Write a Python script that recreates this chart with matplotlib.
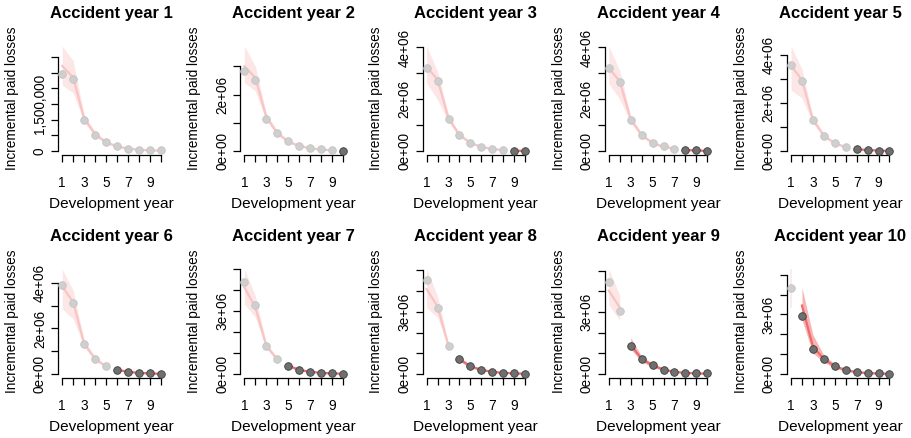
import numpy as np
import matplotlib.pyplot as plt

plt.rcParams['font.family'] = ['Liberation Sans', 'DejaVu Sans']

dev_years = np.arange(1, 11)
acc_years = list(range(1, 11))
# number of development years used for fitting (light), rest are hold-out (dark)
n_fit = [10, 9, 8, 7, 6, 5, 4, 3, 2, 1]

# incremental paid losses, thousands
observed = [
    [2440, 2280, 980, 520, 290, 160, 80, 50, 30, 20],
    [2830, 2530, 1140, 630, 350, 180, 110, 60, 35, 20],
    [3200, 2720, 1240, 630, 320, 170, 80, 40, 10, 10],
    [3200, 2680, 1200, 620, 300, 180, 100, 40, 30, 10],
    [3550, 2920, 1290, 630, 320, 170, 80, 40, 25, 15],
    [3900, 3130, 1320, 660, 340, 180, 100, 60, 30, 20],
    [4340, 3270, 1340, 710, 390, 190, 100, 60, 40, 20],
    [4520, 3190, 1350, 720, 400, 190, 110, 60, 30, 20],
    [4460, 3050, 1350, 720, 430, 190, 90, 60, 40, 30],
    [4310, 2940, 1280, 780, 420, 200, 100, 60, 40, 25],
]
fitted = [
    [2710, 2340, 1040, 540, 280, 150, 80, 45, 25, 15],
    [3000, 2590, 1200, 640, 340, 180, 100, 55, 30, 20],
    [3250, 2760, 1260, 620, 320, 160, 80, 40, 15, 10],
    [3200, 2700, 1220, 620, 310, 170, 95, 40, 25, 10],
    [3550, 2940, 1300, 640, 320, 170, 80, 45, 25, 12],
    [3850, 3150, 1340, 670, 340, 190, 100, 55, 30, 15],
    [4110, 3160, 1340, 700, 400, 200, 110, 60, 35, 20],
    [4090, 3250, 1350, 720, 380, 200, 110, 60, 35, 20],
    [4030, 3220, 1400, 740, 420, 220, 110, 60, 35, 20],
    [4300, 3450, 1390, 750, 400, 200, 100, 55, 30, 20],
]
lower = [
    [2100, 1850, 920, 470, 245, 125, 65, 35, 18, 10],
    [2420, 2120, 1080, 570, 300, 155, 85, 45, 22, 12],
    [2620, 1980, 1130, 550, 280, 140, 65, 30, 8, 5],
    [2600, 2000, 1100, 550, 270, 145, 80, 30, 15, 5],
    [2540, 2200, 1170, 570, 280, 145, 65, 35, 15, 5],
    [2860, 2420, 1200, 590, 300, 160, 80, 40, 20, 8],
    [3320, 2690, 1200, 620, 330, 160, 85, 45, 22, 10],
    [3200, 2730, 1250, 620, 310, 160, 85, 45, 22, 10],
    [3350, 2600, 1210, 600, 330, 170, 85, 40, 20, 10],
    [3330, 2740, 1050, 600, 300, 140, 70, 35, 20, 10],
]
upper = [
    [3340, 2880, 1170, 620, 330, 180, 100, 60, 35, 25],
    [3710, 3000, 1330, 720, 390, 210, 120, 70, 40, 30],
    [4050, 3070, 1400, 700, 370, 190, 100, 55, 25, 18],
    [4050, 3100, 1360, 700, 360, 200, 115, 55, 35, 18],
    [4350, 3400, 1440, 720, 370, 200, 100, 60, 35, 20],
    [4600, 3670, 1490, 760, 390, 230, 125, 75, 45, 25],
    [4970, 3700, 1490, 790, 470, 250, 140, 80, 50, 30],
    [5050, 3760, 1480, 820, 450, 250, 140, 80, 50, 30],
    [5070, 3800, 1770, 850, 520, 280, 150, 85, 55, 35],
    [5280, 4350, 1980, 950, 520, 260, 140, 80, 50, 35],
]

ytick_top = [3e6, 3e6, 4e6, 4e6, 4e6, 4e6, 5e6, 5e6, 5e6, 5e6]
ytick_step = [5e5, 1e6, 1e6, 1e6, 1e6, 1e6, 1e6, 1e6, 1e6, 1e6]
ytick_labels = [
    {0: '0', 1.5e6: '1,500,000'},
    {0: '0e+00', 2e6: '2e+06'},
    {0: '0e+00', 2e6: '2e+06', 4e6: '4e+06'},
    {0: '0e+00', 2e6: '2e+06', 4e6: '4e+06'},
    {0: '0e+00', 2e6: '2e+06', 4e6: '4e+06'},
    {0: '0e+00', 2e6: '2e+06', 4e6: '4e+06'},
    {0: '0e+00', 3e6: '3e+06'},
    {0: '0e+00', 3e6: '3e+06'},
    {0: '0e+00', 3e6: '3e+06'},
    {0: '0e+00', 3e6: '3e+06'},
]

W, H = 911, 438
fig = plt.figure(figsize=(W / 100, H / 100), dpi=100)

light_band, light_line, light_pt = '#fde6e6', '#f8c4c4', '#cfcfcf'
dark_band, dark_line, dark_pt = '#f7b4b4', '#ee6b6b', '#6f6f6f'


def draw_part(ax, x, m, lo, hi, y, band, line, pt, edge):
    if len(x) == 1:
        ax.vlines(x, lo, hi, color=band, lw=1.2, zorder=1)
    else:
        ax.fill_between(x, lo, hi, color=band, lw=0, zorder=1)
    ax.plot(x, m, color=line, lw=1.6, zorder=2)
    ax.scatter(x, y, s=30, color=pt, edgecolors=edge, linewidths=0.6, zorder=3)


for k, ay in enumerate(acc_years):
    row, col = divmod(k, 5)
    left = (58.3 + col * 182.2) / W
    top = 42 + row * 223
    ax = fig.add_axes([left, (H - top - 113.3) / H, 106.3 / W, 113.3 / H])

    y = np.array(observed[k]) * 1000
    m = np.array(fitted[k]) * 1000
    lo = np.array(lower[k]) * 1000
    hi = np.array(upper[k]) * 1000
    n = n_fit[k]

    draw_part(ax, dev_years[:n], m[:n], lo[:n], hi[:n], y[:n],
              light_band, light_line, light_pt, '#c4c4c4')
    if n < 10:
        draw_part(ax, dev_years[n:], m[n:], lo[n:], hi[n:], y[n:],
                  dark_band, dark_line, dark_pt, '#3c3c3c')

    ymin = min(lo.min(), y.min(), 0)
    ymax = max(hi.max(), y.max())
    pad = 0.04 * (ymax - ymin)
    ax.set_ylim(ymin - pad, ymax + pad)
    ax.set_xlim(1 - 0.36, 10 + 0.36)

    yt = np.arange(0, ytick_top[k] + 1, ytick_step[k])
    ax.set_yticks(yt)
    ax.set_yticklabels([ytick_labels[k].get(v, '') for v in yt])
    ax.set_xticks(dev_years)
    ax.set_xticklabels([str(d) if d % 2 == 1 else '' for d in dev_years])

    for s in ['top', 'right']:
        ax.spines[s].set_visible(False)
    ax.spines['left'].set_bounds(0, ytick_top[k])
    ax.spines['bottom'].set_bounds(1, 10)
    for s in ['left', 'bottom']:
        ax.spines[s].set_linewidth(0.9)

    ax.tick_params(axis='both', length=5.2, width=0.9, labelsize=9.8)
    ax.tick_params(axis='x', pad=9.5)
    ax.tick_params(axis='y', pad=3, labelrotation=90)
    for lab in ax.get_yticklabels():
        lab.set_va('center')

    ax.set_title(f'Accident year {ay}', fontsize=12, fontweight='bold', pad=17)
    ax.set_xlabel('Development year', fontsize=11.1)
    ax.set_ylabel('Incremental paid losses', fontsize=9.8)
    ax.xaxis.set_label_coords(0.5, -0.37)
    ax.yaxis.set_label_coords(-0.37, 0.5)

fig.savefig('out.png', dpi=100)
